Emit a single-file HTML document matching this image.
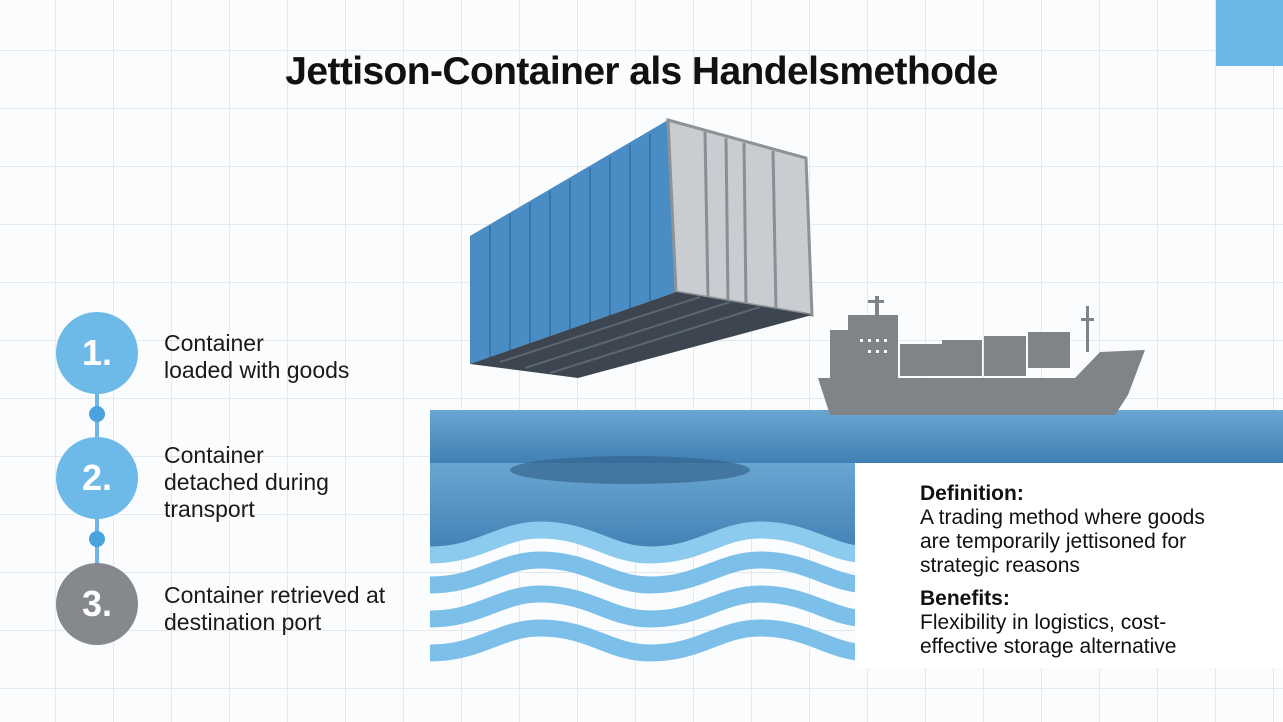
<!DOCTYPE html>
<html><head><meta charset="utf-8"><style>
html,body{margin:0;padding:0}
body{width:1283px;height:722px;position:relative;overflow:hidden;font-family:"Liberation Sans",sans-serif;
background-color:#fbfcfd;
background-image:linear-gradient(#e6e9ec 1px,transparent 1px),linear-gradient(90deg,#e6e9ec 1px,transparent 1px);
background-size:58px 58px;background-position:-3px -8px}
h1{position:absolute;left:0;width:1283px;top:50px;margin:0;text-align:center;font-size:39px;font-weight:bold;color:#111;letter-spacing:-0.6px}
.c{position:absolute;left:56px;width:82px;height:82px;border-radius:50%;color:#fff;font-weight:bold;font-size:36px;text-align:center;line-height:82px}
.dot{position:absolute;left:89px;width:16px;height:16px;border-radius:50%;background:#4aa3de}
.ln{position:absolute;left:95px;width:4px;background:#6fb6e6}
.st{position:absolute;left:164px;font-size:23px;line-height:27px;color:#1a1a1a}
.box{position:absolute;left:920px;font-size:21px;line-height:24px;color:#111}
</style></head><body>
<div style="position:absolute;left:1216px;top:0;width:67px;height:66px;background:#6ab7e8"></div>
<h1>Jettison-Container als Handelsmethode</h1>

<div class="ln" style="top:390px;height:200px"></div>
<div class="c" style="top:312px;background:#6db9e8">1.</div>
<div class="dot" style="top:406px"></div>
<div class="c" style="top:437px;background:#6db9e8">2.</div>
<div class="dot" style="top:531px"></div>
<div class="c" style="top:563px;background:#85888d">3.</div>
<div class="st" style="top:330px">Container<br>loaded with goods</div>
<div class="st" style="top:442px">Container<br>detached during<br>transport</div>
<div class="st" style="top:582px">Container retrieved at<br>destination port</div>

<svg style="position:absolute;left:0;top:0" width="1283" height="722">
<defs><linearGradient id="w" x1="0" y1="0" x2="0" y2="1"><stop offset="0" stop-color="#6aa6d2"/><stop offset="1" stop-color="#3f7fb3"/></linearGradient>
<clipPath id="cl"><rect x="430" y="400" width="425" height="300"/></clipPath></defs>
<rect x="430" y="410" width="853" height="54" fill="url(#w)"/>
<g clip-path="url(#cl)">
<path d="M430 463 H855 V545 C810 545 790 530 760 530 C720 530 690 555 650 555 C600 555 580 530 540 530 C500 530 470 555 430 555 Z" fill="url(#w)"/>
<ellipse cx="630" cy="470" rx="120" ry="14" fill="#35658f" opacity="0.7"/>
<g fill="none" stroke-width="17">
<path d="M330 538 C370 538 390 555 430 555 C480 555 500 530 540 530 C590 530 610 555 650 555 C700 555 720 530 760 530 C810 530 830 555 870 555" stroke="#8ccbee"/>
<path d="M330 568 C370 568 390 585 430 585 C480 585 500 560 540 560 C590 560 610 585 650 585 C700 585 720 560 760 560 C810 560 830 585 870 585" stroke="#7cc0ea"/>
<path d="M330 602 C370 602 390 619 430 619 C480 619 500 594 540 594 C590 594 610 619 650 619 C700 619 720 594 760 594 C810 594 830 619 870 619" stroke="#7cc0ea"/>
<path d="M330 636 C370 636 390 653 430 653 C480 653 500 628 540 628 C590 628 610 653 650 653 C700 653 720 628 760 628 C810 628 830 653 870 653" stroke="#7cc0ea"/>
</g>
</g>
<polygon points="470,236 668,120 676,292 470,364" fill="#4a8cc4"/>
<g stroke="#3a75a8" stroke-width="2">
<line x1="490" y1="226" x2="490" y2="358"/><line x1="510" y1="214" x2="510" y2="351"/><line x1="530" y1="203" x2="530" y2="344"/><line x1="550" y1="191" x2="550" y2="337"/><line x1="570" y1="180" x2="570" y2="330"/><line x1="590" y1="168" x2="590" y2="323"/><line x1="610" y1="157" x2="610" y2="316"/><line x1="630" y1="145" x2="630" y2="309"/><line x1="650" y1="134" x2="650" y2="302"/>
</g>
<polygon points="668,120 806,158 812,315 676,292" fill="#c9ccd0" stroke="#8d9297" stroke-width="3"/>
<g stroke="#8a8f95" stroke-width="3"><line x1="705" y1="132" x2="708" y2="298"/><line x1="726" y1="138" x2="728" y2="302"/><line x1="744" y1="143" x2="746" y2="305"/><line x1="773" y1="151" x2="776" y2="310"/></g>
<polygon points="470,364 676,292 812,315 578,378" fill="#3d4650"/>
<g stroke="#5c6670" stroke-width="2"><line x1="500" y1="362" x2="700" y2="297"/><line x1="525" y1="368" x2="730" y2="302"/><line x1="550" y1="373" x2="760" y2="307"/></g>
<g fill="#808388">
<path d="M818 378 L1075 378 L1100 352 L1145 350 L1128 395 L1115 415 L830 415 Z"/>
<rect x="830" y="330" width="68" height="48"/>
<rect x="848" y="315" width="50" height="16"/>
<rect x="875" y="296" width="4" height="22"/><rect x="868" y="300" width="16" height="3"/>
<rect x="900" y="344" width="42" height="32"/><rect x="942" y="340" width="40" height="36"/><rect x="984" y="336" width="42" height="40"/><rect x="1028" y="332" width="42" height="36"/>
<rect x="1086" y="306" width="3" height="46"/><rect x="1081" y="318" width="13" height="3"/>
</g>
<g fill="#fff"><rect x="860" y="339" width="3" height="3"/><rect x="868" y="339" width="3" height="3"/><rect x="876" y="339" width="3" height="3"/><rect x="884" y="339" width="3" height="3"/><rect x="868" y="350" width="3" height="3"/><rect x="876" y="350" width="3" height="3"/><rect x="884" y="350" width="3" height="3"/></g>
</svg>

<div style="position:absolute;left:855px;top:463px;width:428px;height:205px;background:#fff"></div>
<div class="box" style="top:482px"><b>Definition:</b><br>A trading method where goods<br>are temporarily jettisoned for<br>strategic reasons</div>
<div class="box" style="top:587px"><b>Benefits:</b><br>Flexibility in logistics, cost-<br>effective storage alternative</div>
</body></html>
